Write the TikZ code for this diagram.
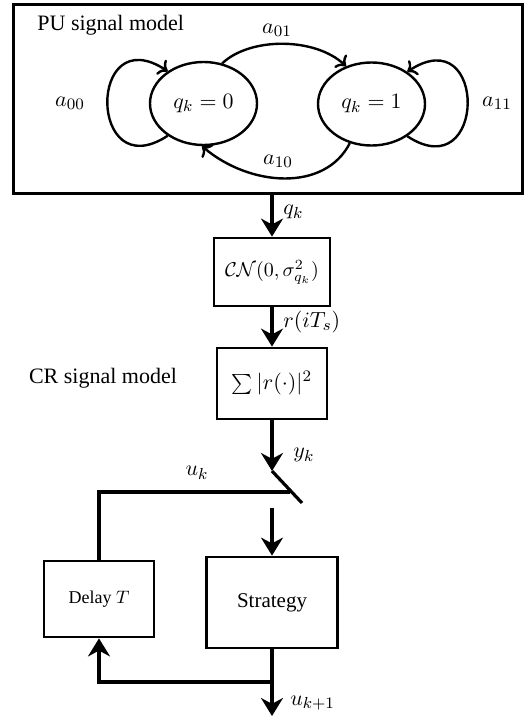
\documentclass[tikz,border=0pt]{standalone}
\usepackage{fontspec}
\setmainfont{Liberation Serif}
\usetikzlibrary{arrows.meta,shapes.geometric}
\begin{document}
\begin{tikzpicture}[x=0.5pt,y=-0.5pt,
  every node/.style={font=\fontsize{11}{13}\selectfont},
  state/.style={draw,ellipse,line width=1.2pt,minimum width=53.5pt,minimum height=41.5pt,inner sep=0pt},
  blk/.style={draw,line width=1.4pt,inner sep=0pt},
  big/.style={line width=1.6pt,-{Stealth[length=9pt,width=11pt]}},
  thinarr/.style={line width=1.2pt,-{To}},
  wire/.style={line width=1.6pt},
  lbl/.style={inner sep=0pt}]
\useasboundingbox (0,0) rectangle (529,717);
% PU signal model
\node[blk,line width=1.5pt,minimum width=254.5pt,minimum height=94pt] (pu) at (267.5,99) {};
\node[lbl,anchor=west] (putxt) at (37,25) {PU signal model};
\node[state] (q0) at (203.5,103.5) {$q_k=0$};
\node[state] (q1) at (371.5,104) {$q_k=1$};
\node[lbl] (a00) at (70,103) {$a_{00}$};
\node[lbl] (a11) at (497,103) {$a_{11}$};
\node[lbl] (a01) at (277,30) {$a_{01}$};
\node[lbl] (a10) at (278,161) {$a_{10}$};
\draw[thinarr] (q0.222) .. controls (88,188) and (87,18) .. (q0.138);
\draw[thinarr] (q1.318) .. controls (487,188.5) and (488,18.5) .. (q1.42);
\draw[thinarr] (q0.65) .. controls (250,37) and (315,37) .. (q1.124);
\draw[thinarr] (q1.241) .. controls (325,192) and (250,187) .. (q0.268);
% CR chain
\node[blk,minimum width=58pt,minimum height=34pt,font=\fontsize{10}{12}\selectfont] (cn) at (272,272) {$\mathcal{CN}(0,\sigma^2_{q_k})$};
\draw[big] (pu.south -| cn.north) -- (cn.north);
\node[lbl,anchor=west] (qk) at (283,212) {$q_k$};
\node[blk,minimum width=55pt,minimum height=35.5pt] (sum) at (272,383.5) {$\sum|r(\cdot)|^2$};
\draw[big] (cn.south) -- (sum.north);
\node[lbl,anchor=west] (r) at (283,322) {$r(iT_s)$};
\node[lbl] (crtxt) at (103,378) {CR signal model};
\coordinate (s1) at (272,471);
\coordinate (s2) at (302,503);
\coordinate (sj) at (290,492);
\draw[big] (sum.south) -- (s1);
\draw[wire] (s1) -- (s2);
\node[lbl,anchor=west] (yk) at (293,455) {$y_k$};
\node[blk,minimum width=65.5pt,minimum height=45.5pt,font=\fontsize{10.5}{12}\selectfont] (st) at (272,602.5) {Strategy};
\node[blk,minimum width=55pt,minimum height=38pt,font=\fontsize{9}{11}\selectfont] (dl) at (99,599) {Delay $T$};
\coordinate (s3) at (272,508);
\draw[big] (s3) -- (st.north);
\draw[wire] (sj) -- (sj -| dl.north) -- (dl.north);
\node[lbl] (uk) at (197,473) {$u_k$};
\coordinate (out) at (272,716);
\coordinate (br) at (272,682);
\draw[big] (st.south) -- (out);
\draw[big] (br) -- (br -| dl.south) -- (dl.south);
\node[lbl,anchor=west] (uk1) at (290,703) {$u_{k+1}$};
\end{tikzpicture}
\end{document}
